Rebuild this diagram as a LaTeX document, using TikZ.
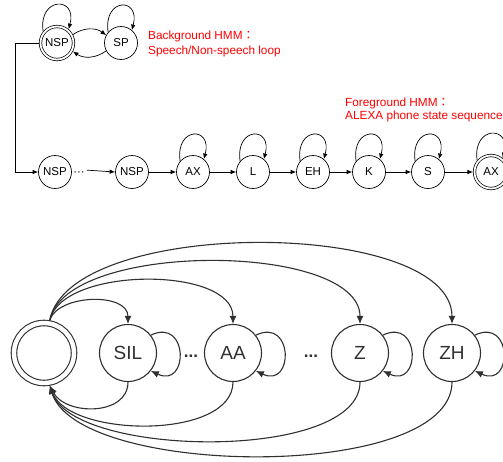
\documentclass[tikz,border=0pt]{standalone}
\usepackage{fontspec}
\setmainfont{Liberation Sans}
\newfontfamily\cjkfont{Noto Sans CJK TC}
\usetikzlibrary{arrows.meta}
\definecolor{lg}{HTML}{303030}
\begin{document}
\begin{tikzpicture}[x=1pt,y=1pt,
 st/.style={circle,draw,line width=0.7pt,minimum size=33pt,inner sep=0pt,font=\fontsize{11.5}{12}\selectfont},
 dst/.style={st,double,double distance=1.8pt,outer sep=1.6pt},
 arr/.style={line width=0.7pt,-{Latex[length=5.5pt,width=4.5pt]}},
 big/.style={circle,draw=lg,line width=1.1pt,minimum size=57pt,inner sep=0pt,font=\fontsize{19}{20}\selectfont,text=lg},
 dbig/.style={big,double,double distance=4.4pt,minimum size=60pt,outer sep=3.3pt},
 barr/.style={line width=1.1pt,draw=lg,-{Latex[length=8pt,width=7pt]}},
 redtxt/.style={text=red,font=\fontsize{11.8}{14}\selectfont,inner sep=0pt,anchor=base west},
 dotstxt/.style={inner sep=0pt,anchor=base,font=\fontsize{11.5}{12}\selectfont},
 bdots/.style={inner sep=0pt,anchor=base,text=lg,font=\fontsize{17}{18}\selectfont\bfseries}
]
\useasboundingbox (0,0) rectangle (503,-461);

% ---------- background HMM ----------
\node[dst] (nsp0) at (57,-43) {NSP};
\node[st]  (sp)   at (121,-43) {SP};
\draw[arr] (nsp0.140) .. controls +(-5,35) and +(9,33) .. (nsp0.50);
\draw[arr] (sp.140) .. controls +(-5,35) and +(9,33) .. (sp.50);
\draw[arr] (nsp0.28) to[bend left=35] (sp.152);
\draw[arr] (sp.208) to[bend left=35] (nsp0.332);
\node[redtxt] (bg1) at (148,-39.5) {Background HMM{\cjkfont ：}};
\node[redtxt] (bg2) at (148,-54.5) {Speech/Non-speech loop};

% ---------- foreground HMM ----------
\node[st]  (nsp1) at (55,-172)  {NSP};
\node[dotstxt] (d1) at (79,-175.5) {···};
\node[st]  (nsp2) at (132,-172) {NSP};
\node[st]  (ax1)  at (193,-172) {AX};
\node[st]  (l)    at (253,-172) {L};
\node[st]  (eh)   at (313,-172) {EH};
\node[st]  (k)    at (369,-172) {K};
\node[st]  (s)    at (428,-172) {S};
\node[dst] (ax2)  at (491,-172) {AX};
\node[redtxt] (fg1) at (345,-106) {Foreground HMM{\cjkfont ：}};
\node[redtxt] (fg2) at (345,-119) {ALEXA phone state sequence};

\draw[arr] (nsp0.west) -- ++(-24,0) |- (nsp1.west);
\draw[arr] (d1.east) ++(2,3.5) -- (nsp2.west);
\draw[arr] (nsp2) -- (ax1);
\draw[arr] (ax1) -- (l);
\draw[arr] (l) -- (eh);
\draw[arr] (eh) -- (k);
\draw[arr] (k) -- (s);
\draw[arr] (s) -- (ax2);
\foreach \n in {ax1,l,eh,k,s,ax2}
  \draw[arr] (\n.140) .. controls +(-5,35) and +(9,33) .. (\n.50);

% ---------- bottom network ----------
\node[dbig] (st0) at (44,-353) {};
\node[big] (sil) at (128,-353) {SIL};
\node[bdots] (d2) at (191,-357) {...};
\node[big] (aa)  at (233,-353) {AA};
\node[bdots] (d3) at (311,-357) {...};
\node[big] (z)   at (360,-353) {Z};
\node[big] (zh)  at (452,-353) {ZH};

\foreach \n in {sil,aa,z,zh}
  \draw[barr] (\n.38) .. controls +(38,18) and +(38,-18) .. (\n.-38);

\draw[barr] (st0.80) .. controls +(8,26) and +(0,32) .. (sil.north);
\draw[barr] (st0.80) .. controls +(12,54) and +(0,58) .. (aa.north);
\draw[barr] (st0.80) .. controls +(16,80) and +(0,82) .. (z.north);
\draw[barr] (st0.80) .. controls +(20,104) and +(0,106) .. (zh.north);

\draw[barr] (sil.south) .. controls +(0,-34) and +(16,-30) .. (st0.-80);
\draw[barr] (aa.south) .. controls +(0,-58) and +(20,-52) .. (st0.-80);
\draw[barr] (z.south) .. controls +(0,-80) and +(24,-72) .. (st0.-80);
\draw[barr] (zh.south) .. controls +(0,-100) and +(28,-92) .. (st0.-80);
\end{tikzpicture}
\end{document}
